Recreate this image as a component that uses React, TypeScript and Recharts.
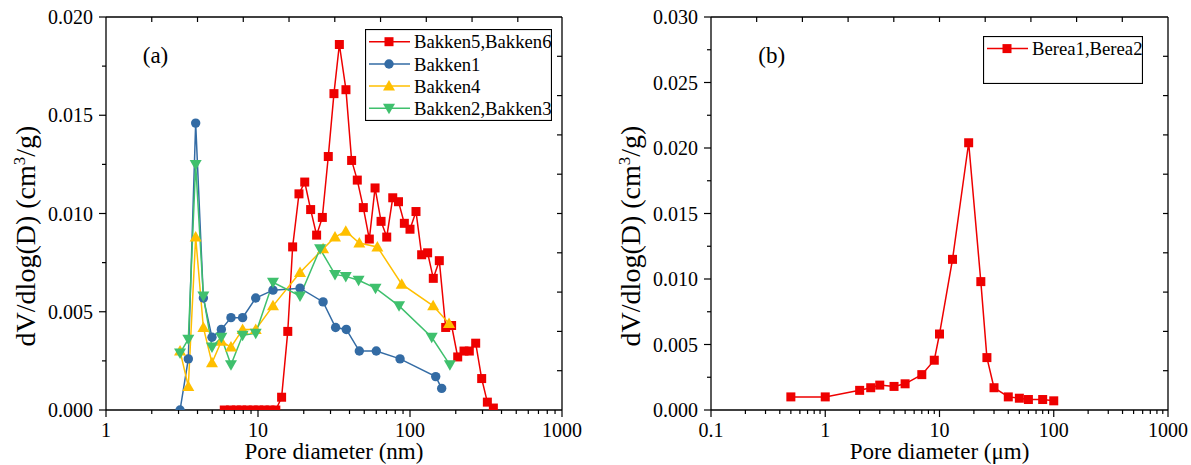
import React from "react";
import { LineChart, Line, XAxis, YAxis, Legend } from "recharts";

// ---- panel (a): pore size distribution, Bakken samples (nm) ----
const bakken56X = [
  6.0, 6.6, 7.2, 7.8, 8.5, 9.3, 10.1, 11.0, 12.0, 13.1, 14.3, 15.7, 16.9, 18.6, 20.3, 22.2, 24.3, 26.5, 29.0, 31.6,
  34.3, 37.9, 41.3, 45.0, 49.3, 54.0, 58.9, 64.5, 70.3, 77, 84, 91.8, 100, 109.5, 119.3, 130.6, 142.3, 155.9,
  171.7, 187.8, 206, 226.6, 245.6, 270.5, 296.2, 322.8, 353.5,
];
const bakken56Y = [
  0, 0, 0, 0, 0, 0, 0, 0, 0, 0, 0.00065, 0.004, 0.0083, 0.011, 0.0116, 0.0102, 0.0089, 0.0098, 0.0129, 0.0161,
  0.0186, 0.0163, 0.0127, 0.0117, 0.0103, 0.0087, 0.0113, 0.0096, 0.0088, 0.0108, 0.0106, 0.0095, 0.0092, 0.0101,
  0.0079, 0.008, 0.0067, 0.0076, 0.0042, 0.0043, 0.0027, 0.003, 0.003, 0.0034, 0.0016, 0.0004, 0.0001,
];

const bakken1X = [3.07, 3.48, 3.89, 4.37, 4.98, 5.74, 6.64, 7.92, 9.66, 12.55, 18.9, 26.8, 32.4, 38.1, 46.4, 60, 86, 147.6, 161.6];
const bakken1Y = [0, 0.0026, 0.0146, 0.0057, 0.0037, 0.0041, 0.0047, 0.0047, 0.0057, 0.0061, 0.0062, 0.0055, 0.0042, 0.0041, 0.003, 0.003, 0.0026, 0.0017, 0.0011];

const bakken4X = [3.07, 3.48, 3.89, 4.37, 4.98, 5.74, 6.64, 7.92, 9.66, 12.55, 18.9, 26.8, 32.1, 37.8, 46.4, 61, 88.2, 142, 180.6];
const bakken4Y = [0.003, 0.0012, 0.0088, 0.0042, 0.0024, 0.0035, 0.0032, 0.0041, 0.0041, 0.0053, 0.007, 0.0082, 0.0088, 0.0091, 0.0085, 0.0083, 0.0064, 0.0053, 0.0044];

const bakken23X = [3.07, 3.48, 3.89, 4.37, 4.98, 5.74, 6.64, 7.92, 9.66, 12.55, 18.9, 25.6, 32.1, 37.8, 45.9, 59.3, 84.7, 139, 183];
const bakken23Y = [0.0029, 0.0036, 0.0125, 0.0058, 0.0032, 0.0037, 0.0023, 0.0038, 0.0039, 0.0065, 0.0058, 0.0082, 0.0069, 0.0068, 0.0066, 0.0062, 0.0053, 0.0037, 0.0023];

// ---- panel (b): Berea samples (µm) ----
const bereaX = [0.5, 1, 2, 2.5, 3, 4, 5, 7, 9, 10, 13, 18, 23, 26, 30, 40, 50, 60, 80, 100];
const bereaY = [0.001, 0.001, 0.0015, 0.0017, 0.0019, 0.0018, 0.002, 0.0027, 0.0038, 0.0058, 0.0115, 0.0204, 0.0098, 0.004, 0.0017, 0.001, 0.0009, 0.0008, 0.0008, 0.0007];

// ticks
const ticksXA = [1, 2, 3, 4, 5, 6, 7, 8, 9, 10, 20, 30, 40, 50, 60, 70, 80, 90, 100, 200, 300, 400, 500, 600, 700, 800, 900, 1000];
const ticksXB = [
  0.1, 0.2, 0.3, 0.4, 0.5, 0.6, 0.7, 0.8, 0.9, 1, 2, 3, 4, 5, 6, 7, 8, 9, 10, 20, 30, 40, 50, 60, 70, 80, 90, 100,
  200, 300, 400, 500, 600, 700, 800, 900, 1000,
];
const topTicksA = [2, 4, 8, 16, 32, 64, 128, 256, 512];
const topTicksB = [0.251, 0.631, 1.585, 3.981, 10, 25.12, 63.1, 158.5, 398.1];
const ticksYA = [0, 0.0025, 0.005, 0.0075, 0.01, 0.0125, 0.015, 0.0175, 0.02];
const ticksYB = [0, 0.0025, 0.005, 0.0075, 0.01, 0.0125, 0.015, 0.0175, 0.02, 0.0225, 0.025, 0.0275, 0.03];
const rightTicksA = [0.002, 0.004, 0.006, 0.008, 0.01, 0.012, 0.014, 0.016, 0.018];
const rightTicksB = [0.003, 0.006, 0.009, 0.012, 0.015, 0.018, 0.021, 0.024, 0.027];

const RED = "#ee0000";
const BLUE = "#336ba4";
const YELLOW = "#ffbf00";
const GREEN = "#3fc06d";
const FONT = "'Liberation Serif', 'Times New Roman', serif";

const pairs = (xs: number[], ys: number[]) => xs.map((x, i) => ({ x, y: ys[i] }));

const isDecade = (v: number) => Math.abs(Math.log10(v) - Math.round(Math.log10(v))) < 1e-6;
const isMajorY = (v: number) => Math.abs(v / 0.005 - Math.round(v / 0.005)) < 1e-6;

function BottomTick({ x, y, payload }: any) {
  const major = isDecade(payload.value);
  return (
    <g>
      <line x1={x} x2={x} y1={y} y2={y + (major ? 7 : 4)} stroke="#000" strokeWidth={1.2} />
      {major && (
        <text x={x} y={y + 27} textAnchor="middle" fontSize={20} fontFamily={FONT} fill="#000">
          {String(payload.value)}
        </text>
      )}
    </g>
  );
}

function LeftTick({ x, y, payload }: any) {
  const major = isMajorY(payload.value);
  return (
    <g>
      <line x1={x - (major ? 7 : 4)} x2={x} y1={y} y2={y} stroke="#000" strokeWidth={1.2} />
      {major && (
        <text x={x - 13} y={y} dy="0.35em" textAnchor="end" fontSize={20} fontFamily={FONT} fill="#000">
          {payload.value.toFixed(3)}
        </text>
      )}
    </g>
  );
}

function TopTick({ x, y }: any) {
  return <line x1={x} x2={x} y1={y} y2={y + 5} stroke="#000" strokeWidth={1.2} />;
}

function RightTick({ x, y }: any) {
  return <line x1={x - 5} x2={x} y1={y} y2={y} stroke="#000" strokeWidth={1.2} />;
}

// markers
const squareDot = (color: string) => (p: any) =>
  <rect key={`s${p.index}`} x={p.cx - 4.5} y={p.cy - 4.5} width={9} height={9} fill={color} />;
const circleDot = (color: string) => (p: any) =>
  <circle key={`c${p.index}`} cx={p.cx} cy={p.cy} r={4.7} fill={color} />;
const upDot = (color: string) => (p: any) =>
  <polygon key={`u${p.index}`} points={`${p.cx},${p.cy - 6} ${p.cx - 6},${p.cy + 4.5} ${p.cx + 6},${p.cy + 4.5}`} fill={color} />;
const downDot = (color: string) => (p: any) =>
  <polygon key={`d${p.index}`} points={`${p.cx},${p.cy + 6} ${p.cx - 6},${p.cy - 4.5} ${p.cx + 6},${p.cy - 4.5}`} fill={color} />;

const legendA = [
  { name: "Bakken5,Bakken6", color: RED, dot: squareDot(RED) },
  { name: "Bakken1", color: BLUE, dot: circleDot(BLUE) },
  { name: "Bakken4", color: YELLOW, dot: upDot(YELLOW) },
  { name: "Bakken2,Bakken3", color: GREEN, dot: downDot(GREEN) },
];

function LegendBox({ items, width, height, rows }: any) {
  return (
    <svg width={width} height={height} style={{ display: "block" }}>
      <rect x={0.5} y={0.5} width={width - 1} height={height - 1} fill="#fff" stroke="#000" strokeWidth={1.2} />
      {items.map((it: any, i: number) => (
        <g key={it.name}>
          <line x1={4} x2={45} y1={rows[i]} y2={rows[i]} stroke={it.color} strokeWidth={1.5} />
          {it.dot({ cx: 24, cy: rows[i], index: i })}
          <text x={49} y={rows[i]} dy="0.35em" fontSize={18.7} fontFamily={FONT} fill="#000">
            {it.name}
          </text>
        </g>
      ))}
    </svg>
  );
}

function YTitle({ x, y }: { x: number; y: number }) {
  return (
    <text x={x} y={y} transform={`rotate(-90, ${x}, ${y})`} textAnchor="middle" fontSize={28} fontFamily={FONT} fill="#000">
      dV/dlog(D) (cm
      <tspan dy={-10} fontSize={17}>3</tspan>
      <tspan dy={10}>/g)</tspan>
    </text>
  );
}

const axisLine = { stroke: "#000", strokeWidth: 1.3 };

export default function App() {
  return (
    <div style={{ position: "absolute", left: 0, top: 0, width: 1191, height: 465, background: "#fff", fontFamily: FONT }}>
      {/* panel (a) */}
      <div style={{ position: "absolute", left: 0, top: 0, width: 600, height: 465 }}>
        <LineChart width={600} height={465} margin={{ top: 16, right: 37, bottom: 54, left: 105 }}>
          <XAxis xAxisId="bottom" dataKey="x" type="number" scale="log" domain={[1, 1000]} ticks={ticksXA} interval={0}
            height={1} tickSize={0} tickMargin={0} tickLine={false} tick={<BottomTick />} axisLine={axisLine} allowDataOverflow />
          <XAxis xAxisId="top" orientation="top" dataKey="x" type="number" scale="log" domain={[1, 1000]} ticks={topTicksA} interval={0}
            height={1} tickSize={0} tickMargin={0} tickLine={false} tick={<TopTick />} axisLine={axisLine} allowDataOverflow />
          <YAxis yAxisId="left" type="number" domain={[0, 0.02]} ticks={ticksYA} interval={0} width={1}
            tickSize={0} tickMargin={0} tickLine={false} tick={<LeftTick />} axisLine={axisLine} allowDataOverflow />
          <YAxis yAxisId="right" orientation="right" type="number" domain={[0, 0.02]} ticks={rightTicksA} interval={0} width={1}
            tickSize={0} tickMargin={0} tickLine={false} tick={<RightTick />} axisLine={axisLine} allowDataOverflow />
          <Legend verticalAlign="middle" align="center" layout="horizontal"
            wrapperStyle={{ left: 365, top: 29, width: 187, height: 92 }}
            content={() => <LegendBox items={legendA} width={187} height={92} rows={[12.7, 35, 57, 79.3]} />} />
          <Line xAxisId="bottom" yAxisId="left" data={pairs(bakken56X, bakken56Y)} dataKey="y" name="Bakken5,Bakken6"
            stroke={RED} strokeWidth={1.5} dot={squareDot(RED)} isAnimationActive={false} />
          <Line xAxisId="bottom" yAxisId="left" data={pairs(bakken1X, bakken1Y)} dataKey="y" name="Bakken1"
            stroke={BLUE} strokeWidth={1.5} dot={circleDot(BLUE)} isAnimationActive={false} />
          <Line xAxisId="bottom" yAxisId="left" data={pairs(bakken4X, bakken4Y)} dataKey="y" name="Bakken4"
            stroke={YELLOW} strokeWidth={1.5} dot={upDot(YELLOW)} isAnimationActive={false} />
          <Line xAxisId="bottom" yAxisId="left" data={pairs(bakken23X, bakken23Y)} dataKey="y" name="Bakken2,Bakken3"
            stroke={GREEN} strokeWidth={1.5} dot={downDot(GREEN)} isAnimationActive={false} />
        </LineChart>
        <svg width={600} height={465} style={{ position: "absolute", left: 0, top: 0, pointerEvents: "none" }}>
          <text x={155.5} y={63} textAnchor="middle" fontSize={23} fontFamily={FONT} fill="#000">(a)</text>
          <text x={334} y={459} textAnchor="middle" fontSize={23} fontFamily={FONT} fill="#000">Pore diameter (nm)</text>
          <YTitle x={35} y={236} />
        </svg>
      </div>

      {/* panel (b) */}
      <div style={{ position: "absolute", left: 600, top: 0, width: 591, height: 465 }}>
        <LineChart width={591} height={465} margin={{ top: 16, right: 22, bottom: 54, left: 110 }}>
          <XAxis xAxisId="bottom" dataKey="x" type="number" scale="log" domain={[0.1, 1000]} ticks={ticksXB} interval={0}
            height={1} tickSize={0} tickMargin={0} tickLine={false} tick={<BottomTick />} axisLine={axisLine} allowDataOverflow />
          <XAxis xAxisId="top" orientation="top" dataKey="x" type="number" scale="log" domain={[0.1, 1000]} ticks={topTicksB} interval={0}
            height={1} tickSize={0} tickMargin={0} tickLine={false} tick={<TopTick />} axisLine={axisLine} allowDataOverflow />
          <YAxis yAxisId="left" type="number" domain={[0, 0.03]} ticks={ticksYB} interval={0} width={1}
            tickSize={0} tickMargin={0} tickLine={false} tick={<LeftTick />} axisLine={axisLine} allowDataOverflow />
          <YAxis yAxisId="right" orientation="right" type="number" domain={[0, 0.03]} ticks={rightTicksB} interval={0} width={1}
            tickSize={0} tickMargin={0} tickLine={false} tick={<RightTick />} axisLine={axisLine} allowDataOverflow />
          <Legend verticalAlign="middle" align="center" layout="horizontal"
            wrapperStyle={{ left: 383, top: 36, width: 160, height: 48 }}
            content={() => (
              <LegendBox items={[{ name: "Berea1,Berea2", color: RED, dot: squareDot(RED) }]} width={160} height={48} rows={[12.6]} />
            )} />
          <Line xAxisId="bottom" yAxisId="left" data={pairs(bereaX, bereaY)} dataKey="y" name="Berea1,Berea2"
            stroke={RED} strokeWidth={1.5} dot={squareDot(RED)} isAnimationActive={false} />
        </LineChart>
        <svg width={591} height={465} style={{ position: "absolute", left: 0, top: 0, pointerEvents: "none" }}>
          <text x={171.7} y={63} textAnchor="middle" fontSize={23} fontFamily={FONT} fill="#000">(b)</text>
          <text x={339.5} y={459} textAnchor="middle" fontSize={23} fontFamily={FONT} fill="#000">Pore diameter (μm)</text>
          <YTitle x={40} y={236} />
        </svg>
      </div>
    </div>
  );
}
